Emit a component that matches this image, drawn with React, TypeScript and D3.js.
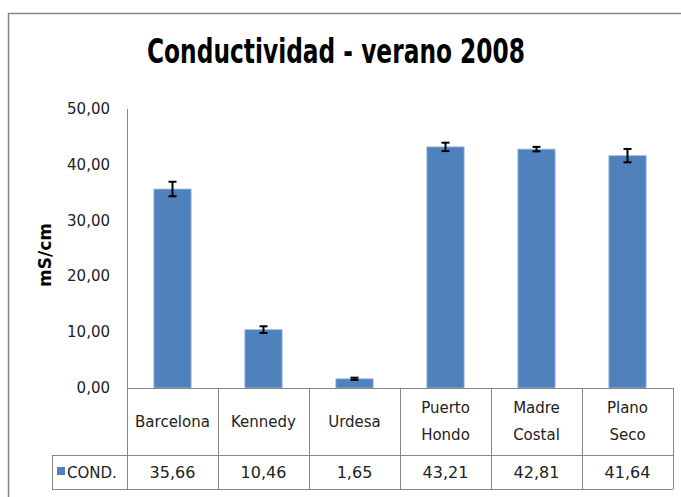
import React, { useEffect, useRef } from "react";
import * as d3 from "d3";

const categories = ["Barcelona", "Kennedy", "Urdesa", "Puerto Hondo", "Madre Costal", "Plano Seco"];
const categoryLines = [["Barcelona"], ["Kennedy"], ["Urdesa"], ["Puerto", "Hondo"], ["Madre", "Costal"], ["Plano", "Seco"]];
const values = [35.66, 10.46, 1.65, 43.21, 42.81, 41.64];
const errors = [1.3, 0.6, 0.2, 0.75, 0.4, 1.2];
const yTicks = [0, 10, 20, 30, 40, 50];
const seriesName = "COND.";

const W = 681;
const H = 497;
const FONT = "'DejaVu Sans', sans-serif";
const BAR = "#4f81bd";
const AXIS = "#868686";

const fmt = (v: number) => v.toFixed(2).replace(".", ",");

const App = () => {
  const ref = useRef<SVGSVGElement>(null);

  useEffect(() => {
    const svg = d3.select(ref.current);
    svg.selectAll("*").remove();

    const left = 127, right = 673, top = 109, bottom = 388;
    const rowSplit = 455, tableBottom = 489, legendLeft = 52;

    const x = d3.scaleBand().domain(categories).range([left, right]).paddingInner(0.59).paddingOuter(0.295);
    const band = d3.scaleBand().domain(categories).range([left, right]);
    const y = d3.scaleLinear().domain([0, 50]).range([bottom, top]);

    // chart frame
    svg.append("rect")
      .attr("x", 8.5).attr("y", 13.5)
      .attr("width", W + 20).attr("height", H + 20)
      .attr("fill", "white").attr("stroke", AXIS).attr("stroke-width", 1.5);

    // title, squeezed like the narrow original font
    svg.append("text")
      .attr("x", 147).attr("y", 63)
      .attr("textLength", 378).attr("lengthAdjust", "spacingAndGlyphs")
      .attr("font-family", FONT).attr("font-weight", "bold").attr("font-size", 33)
      .attr("fill", "black")
      .text("Conductividad - verano 2008");

    // y axis title
    svg.append("text")
      .attr("transform", `translate(51,255) rotate(-90)`)
      .attr("text-anchor", "middle")
      .attr("font-family", FONT).attr("font-weight", "bold").attr("font-size", 17)
      .text("mS/cm");

    // y axis
    svg.append("line")
      .attr("x1", left + 0.5).attr("x2", left + 0.5)
      .attr("y1", top).attr("y2", bottom)
      .attr("stroke", AXIS);

    svg.selectAll(".ytick").data(yTicks).enter().append("text")
      .attr("x", left - 17).attr("y", d => y(d) + 5)
      .attr("text-anchor", "end")
      .attr("font-family", FONT).attr("font-size", 15).attr("fill", "#222")
      .text(d => fmt(d));

    // bars
    svg.selectAll(".bar").data(values).enter().append("rect")
      .attr("x", (d, i) => x(categories[i])!)
      .attr("y", d => y(d))
      .attr("width", x.bandwidth())
      .attr("height", d => y(0) - y(d))
      .attr("fill", BAR)
      .attr("stroke", "#a7c0de").attr("stroke-width", 0.8);

    // error bars
    const eb = svg.selectAll(".err").data(values).enter().append("g")
      .attr("stroke", "black").attr("stroke-width", 2);
    const cx = (i: number) => x(categories[i])! + x.bandwidth() / 2;
    eb.append("line")
      .attr("x1", (d, i) => cx(i)).attr("x2", (d, i) => cx(i))
      .attr("y1", (d, i) => y(d + errors[i])).attr("y2", (d, i) => y(d - errors[i]));
    eb.append("line")
      .attr("x1", (d, i) => cx(i) - 4).attr("x2", (d, i) => cx(i) + 4)
      .attr("y1", (d, i) => y(d + errors[i])).attr("y2", (d, i) => y(d + errors[i]));
    eb.append("line")
      .attr("x1", (d, i) => cx(i) - 4).attr("x2", (d, i) => cx(i) + 4)
      .attr("y1", (d, i) => y(d - errors[i])).attr("y2", (d, i) => y(d - errors[i]));

    // data table
    const g = svg.append("g").attr("stroke", AXIS).attr("stroke-width", 1);
    g.append("line").attr("x1", left).attr("x2", right).attr("y1", bottom + 0.5).attr("y2", bottom + 0.5);
    g.append("line").attr("x1", legendLeft).attr("x2", right).attr("y1", rowSplit + 0.5).attr("y2", rowSplit + 0.5);
    g.append("line").attr("x1", legendLeft).attr("x2", right).attr("y1", tableBottom + 0.5).attr("y2", tableBottom + 0.5);
    g.append("line").attr("x1", legendLeft + 0.5).attr("x2", legendLeft + 0.5).attr("y1", rowSplit).attr("y2", tableBottom);
    g.selectAll(".col").data(categories).enter().append("line")
      .attr("x1", d => band(d)! + 0.5).attr("x2", d => band(d)! + 0.5)
      .attr("y1", bottom).attr("y2", tableBottom);
    g.append("line").attr("x1", right + 0.5).attr("x2", right + 0.5).attr("y1", bottom).attr("y2", tableBottom);

    const catText = svg.selectAll(".cat").data(categories).enter().append("text")
      .attr("text-anchor", "middle")
      .attr("font-family", FONT).attr("font-size", 15).attr("fill", "#222");
    catText.each(function (d, i) {
      const lines = categoryLines[i];
      const cxx = band(d)! + band.bandwidth() / 2;
      const mid = (bottom + rowSplit) / 2;
      lines.forEach((l, k) => {
        d3.select(this).append("tspan")
          .attr("x", cxx)
          .attr("y", mid + 5 + (k - (lines.length - 1) / 2) * 27)
          .text(l);
      });
    });

    svg.selectAll(".val").data(values).enter().append("text")
      .attr("x", (d, i) => band(categories[i])! + band.bandwidth() / 2)
      .attr("y", (rowSplit + tableBottom) / 2 + 6)
      .attr("text-anchor", "middle")
      .attr("font-family", FONT).attr("font-size", 16).attr("fill", "#222")
      .text(d => fmt(d));

    // legend key in table
    svg.append("rect")
      .attr("x", 57).attr("y", 467).attr("width", 8).attr("height", 8).attr("fill", BAR);
    svg.append("text")
      .attr("x", 67).attr("y", 478)
      .attr("font-family", FONT).attr("font-size", 15).attr("fill", "#222")
      .text(seriesName);
  }, []);

  return (
    <svg ref={ref} width={W} height={H}
      style={{ position: "absolute", left: 0, top: 0, background: "white" }} />
  );
};

export default App;
